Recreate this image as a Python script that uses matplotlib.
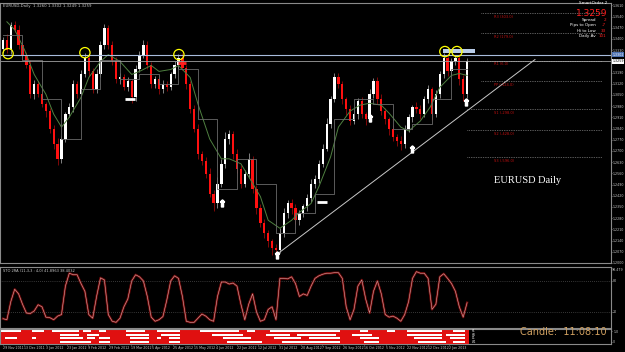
import numpy as np
import matplotlib
matplotlib.use("Agg")
import matplotlib.pyplot as plt
from matplotlib.transforms import blended_transform_factory

# ---- price data (one value per bar, EURUSD daily) ----
closes = [1.3395, 1.3333, 1.3488, 1.3457, 1.3364, 1.3302, 1.3240, 1.3054, 1.3116, 1.3054,
          1.2992, 1.2949, 1.2837, 1.2744, 1.2651, 1.2775, 1.2930, 1.2973, 1.3116, 1.3054,
          1.3178, 1.3283, 1.3197, 1.3085, 1.3178, 1.3364, 1.3469, 1.3364, 1.3259, 1.3147,
          1.3159, 1.3097, 1.3135, 1.3035, 1.3209, 1.3302, 1.3364, 1.3240, 1.3116, 1.3147,
          1.3085, 1.3116, 1.3097, 1.3178, 1.3240, 1.3283, 1.3221, 1.3116, 1.2961, 1.2837,
          1.2682, 1.2639, 1.2558, 1.2434, 1.2372, 1.2496, 1.2620, 1.2775, 1.2806, 1.2682,
          1.2589, 1.2496, 1.2558, 1.2651, 1.2465, 1.2341, 1.2248, 1.2186, 1.2136, 1.2093,
          1.2081, 1.2186, 1.2310, 1.2372, 1.2341, 1.2267, 1.2310, 1.2353, 1.2403, 1.2496,
          1.2527, 1.2620, 1.2713, 1.2868, 1.3023, 1.3159, 1.3116, 1.3023, 1.2961, 1.2887,
          1.2930, 1.3011, 1.2930, 1.2899, 1.3054, 1.3135, 1.3023, 1.2949, 1.2899, 1.2837,
          1.2787, 1.2763, 1.2744, 1.2837, 1.2911, 1.2973, 1.2961, 1.2930, 1.3023, 1.3085,
          1.2930, 1.3054, 1.3178, 1.3283, 1.3197, 1.3259, 1.3283, 1.3147, 1.3054, 1.3259]
first_open = 1.3340
# wick lengths in pips above / below the candle body
upper_wick = [20, 35, 15, 25, 30, 20, 15, 30, 25, 20, 30, 15, 20, 25, 35, 20, 15, 25, 30, 20,
              25, 30, 15, 20, 35, 20, 25, 15, 20, 30, 25, 20, 30, 15, 25, 20, 30, 25, 15, 20,
              25, 30, 20, 15, 25, 20, 30, 15, 20, 25, 30, 20, 25, 35, 20, 40, 30, 45, 25, 20,
              30, 25, 20, 35, 15, 20, 25, 30, 20, 15, 25, 30, 35, 20, 25, 30, 20, 15, 25, 30,
              20, 25, 30, 35, 20, 25, 30, 20, 15, 25, 30, 20, 25, 15, 30, 20, 25, 30, 20, 15,
              25, 20, 30, 25, 20, 15, 30, 25, 20, 30, 15, 25, 20, 30, 25, 20, 15, 25, 30, 20]
lower_wick = [25, 20, 30, 15, 25, 35, 20, 25, 30, 15, 20, 35, 25, 30, 40, 25, 20, 15, 30, 25,
              20, 15, 30, 25, 20, 15, 25, 30, 20, 25, 30, 15, 25, 35, 20, 15, 20, 30, 25, 20,
              30, 20, 25, 15, 20, 25, 15, 30, 25, 20, 35, 25, 30, 20, 45, 30, 20, 25, 30, 35,
              25, 30, 20, 25, 30, 35, 25, 30, 35, 40, 35, 20, 25, 30, 35, 25, 30, 20, 25, 20,
              30, 25, 20, 15, 25, 20, 25, 30, 35, 25, 20, 30, 25, 35, 20, 25, 30, 25, 30, 35,
              25, 30, 40, 25, 20, 30, 25, 30, 20, 25, 35, 20, 25, 20, 30, 25, 20, 35, 40, 25]

# green moving average (bar position, value)
ma_bar = [1, 3, 5.5, 8, 11, 13, 15, 17, 20, 22, 25, 27, 30, 33, 35, 38, 40, 43, 45, 48,
          50, 53, 56, 58, 61, 63, 66, 68, 71, 74, 76, 79, 81, 84, 86, 89, 91.5, 94, 97, 99,
          102, 104, 107, 109.5, 112, 115, 117, 119]
ma_val = [1.3507, 1.3457, 1.3333, 1.3178, 1.3054, 1.2930, 1.2849, 1.2911, 1.3035, 1.3159,
          1.3259, 1.3302, 1.3259, 1.3178, 1.3197, 1.3234, 1.3197, 1.3209, 1.3234, 1.3159,
          1.2992, 1.2775, 1.2651, 1.2651, 1.2620, 1.2539, 1.2415, 1.2267, 1.2217, 1.2267,
          1.2316, 1.2372, 1.2477, 1.2663, 1.2849, 1.2949, 1.2986, 1.2998, 1.2986, 1.2936,
          1.2849, 1.2825, 1.2887, 1.2973, 1.3097, 1.3172, 1.3184, 1.3172]

# gray step indicator, one level per 5 bars
step_val = [1.3426, 1.3271, 1.3023, 1.2775, 1.3085, 1.3271, 1.3147, 1.3178, 1.3116, 1.3209,
            1.2899, 1.2465, 1.2651, 1.2496, 1.2186, 1.2310, 1.2434, 1.2899, 1.3023, 1.2992,
            1.2837, 1.2868, 1.3023, 1.3209]

# stochastic oscillator, one value per bar
stoch = [7, 5, 40, 64, 55, 35, 18, 17, 22, 34, 30, 10, 9, 5, 12, 15, 70, 95, 92, 92,
         75, 60, 15, 8, 50, 86, 82, 15, 2, 0, 8, 30, 45, 80, 92, 88, 80, 50, 10, 2,
         5, 11, 43, 80, 90, 85, 50, 2, 0, 0, 8, 16, 12, 5, 2, 50, 78, 78, 74, 76,
         70, 35, 5, 35, 55, 20, 2, 5, 25, 30, 5, 85, 85, 84, 88, 75, 50, 55, 52, 70,
         85, 90, 93, 95, 95, 96, 96, 85, 30, 5, 25, 70, 82, 45, 18, 60, 80, 55, 15, 10,
         12, 8, 2, 15, 40, 85, 98, 95, 95, 85, 25, 35, 88, 94, 85, 75, 60, 30, 10, 38]

# multi timeframe strip: white segments (first bar, last bar) per row
strip_rows = [
    [(0, 4), (8, 10), (13, 19), (21, 22), (25, 26), (32, 36), (40, 45), (51, 60), (63, 64),
     (69, 86), (92, 93), (99, 100), (104, 112), (116, 118)],
    [(15, 19), (22, 24), (32, 37), (41, 45), (54, 61), (68, 73), (76, 85), (90, 94),
     (104, 112), (114, 118)],
    [(1, 3), (8, 8), (15, 20), (22, 23), (25, 27), (33, 37), (40, 40), (43, 45), (57, 63),
     (70, 76), (79, 86), (92, 96), (106, 112), (115, 118)],
    [(15, 22), (25, 27), (33, 37), (43, 45), (58, 66), (72, 86), (93, 96), (107, 113),
     (116, 118)],
]
strip_names = ["H1", "H4", "D1", "W1"]

date_labels = ["29 Nov 2011", "13 Dec 2011", "3 Jan 2012", "23 Jan 2012", "9 Feb 2012",
               "29 Feb 2012", "19 Mar 2012", "5 Apr 2012", "25 Apr 2012", "15 May 2012",
               "4 Jun 2012", "22 Jun 2012", "12 Jul 2012", "31 Jul 2012", "20 Aug 2012",
               "7 Sep 2012", "26 Sep 2012", "16 Oct 2012", "5 Nov 2012", "22 Nov 2012",
               "12 Dec 2012", "2 Jan 2013"]

# marks on the chart
circle_bar = [1.3, 21, 45.1, 113.3, 116.4]
circle_val = [1.3308, 1.3314, 1.3302, 1.3321, 1.3321]
arrow_bar = [56.2, 70.3, 94.1, 104.9, 118.7]
arrow_val = [1.2372, 1.2050, 1.2905, 1.2713, 1.3004]
dash_bar = [32.6, 81.8]
dash_val = [1.3023, 1.2384]
red_dash_bar = [45.9]
red_dash_val = [1.3252]
pivot_names = ["R3", "R2", "R1", "PP", "S1", "S2", "S3"]
pivot_val = [1.3562, 1.3438, 1.3265, 1.3135, 1.2961, 1.2831, 1.2663]
trend_bar = [70, 136.4]
trend_val = [1.2050, 1.3271]
resist_line = 1.3302
bid = 1.3259

W, H = 625, 352


def box(x0, y0, x1, y1):
    return [x0 / W, 1 - y1 / H, (x1 - x0) / W, (y1 - y0) / H]


fig = plt.figure(figsize=(6.25, 3.52), dpi=100, facecolor="black")
xlim = (-3 / 3.9, 608 / 3.9)
grey = "#8a8a8a"
fs_axis = 2.3

# ---------------- main price panel ----------------
ax = fig.add_axes(box(0, 3, 611, 263))
ax.set_facecolor("black")
ax.set_xlim(*xlim)
ax.set_ylim(1.2000 + 2 * 0.00062, 1.2000 + 262 * 0.00062)

opens = [first_open] + closes[:-1]
for i, (o, c) in enumerate(zip(opens, closes)):
    col = "#ffffff" if c >= o else "#ff1010"
    hi = max(o, c) + upper_wick[i] * 0.0001
    lo = min(o, c) - lower_wick[i] * 0.0001
    ax.vlines(i, lo, hi, color=col, lw=0.5, alpha=0.7)
    h = c - o
    if abs(h) < 0.0004:
        h = 0.0004
    ax.bar(i, h, bottom=o, width=0.6, color=col, lw=0)

ax.plot(ma_bar, ma_val, color="#4f8040", lw=0.7)
step_x = list(range(0, 120, 5)) + [119]
ax.step(step_x, step_val + [step_val[-1]], where="post", color="#6a6a6a", lw=0.6)

ax.axhline(resist_line, color="#a8bcdc", lw=0.8)
ax.axhline(bid, color="#a0a0a0", lw=0.6)
ax.fill_between([112.8, 121], 1.3314, 1.3339, color="#b8cce8", lw=0)
ax.plot(trend_bar, trend_val, color="#c8c8c8", lw=0.7)
ax.scatter(circle_bar, circle_val, s=55, facecolors="none", edgecolors="#ffff00", lw=0.9, zorder=5)
ax.plot(arrow_bar, arrow_val, ls="none", marker=r"$\Uparrow$", ms=5, color="white")
ax.plot(dash_bar, dash_val, ls="none", marker="_", ms=7, mew=2, color="white")
ax.plot(red_dash_bar, red_dash_val, ls="none", marker="_", ms=6, mew=2, color="#ff2020")

for name, v in zip(pivot_names, pivot_val):
    start = 122.5 if v > 1.3 else 119
    ax.hlines(v, start, 153.5, color="#b0b0b0", lw=0.5, linestyles=(0, (1, 1.5)))
    ax.text(126, v - 0.0011, "%s (%.1f)" % (name, (v - bid) * 10000), color="#c01010",
            fontsize=2.6, va="top")

ax.text(126, 1.2500, "EURUSD Daily", color="white", fontsize=7.5, family="Liberation Serif")

ax.yaxis.tick_right()
ax.set_yticks(1.2000 + 0.0070 * np.arange(24))
ax.set_yticklabels(["%.4f" % (1.2000 + 0.0070 * k) for k in range(24)])
ax.tick_params(axis="y", labelsize=fs_axis, colors="#c8c8c8", length=1, width=0.4, pad=0.4)
ax.set_xticks([])
for s in ax.spines.values():
    s.set_color(grey)
    s.set_linewidth(0.8)

tr = blended_transform_factory(ax.transAxes, ax.transData)
ax.text(1.002, resist_line, "%.4f" % resist_line, transform=tr, fontsize=fs_axis, color="white",
        va="center", bbox=dict(boxstyle="square,pad=0.15", fc="#4a6fb0", ec="none"))
ax.text(1.002, bid, "%.4f" % bid, transform=tr, fontsize=fs_axis, color="black",
        va="center", bbox=dict(boxstyle="square,pad=0.15", fc="white", ec="none"))

ax.text(0.005, 0.995, "EURUSD,Daily  1.3260 1.3302 1.3249 1.3259", transform=ax.transAxes,
        color="#c8c8c8", fontsize=2.8, va="top")

# info block top right
fig.text(607 / W, 1 - 3 / H, "SmartOrder 2", color="white", fontsize=3, ha="right", va="center")
fig.text(607 / W, 1 - 13.5 / H, "1.3259", color="#ff2020", fontsize=6.5, ha="right", va="center")
info = [("Spread", "2"), ("Pips to Open", "-7"), ("Hi to Low", "33"), ("Daily Av", "101")]
for k, (lab, val) in enumerate(info):
    yy = 1 - (20 + 5.3 * k) / H
    fig.text(596 / W, yy, lab, color="white", fontsize=3, ha="right", va="center")
    fig.text(606 / W, yy, val, color="#ff2020", fontsize=3, ha="right", va="center")

# ---------------- oscillator panel ----------------
ax2 = fig.add_axes(box(0, 267, 611, 328))
ax2.set_facecolor("black")
ax2.set_xlim(*xlim)
ax2.set_ylim(-11, 107)
ax2.plot(range(len(stoch)), stoch, color="#6e0808", lw=1.7)
ax2.plot(range(len(stoch)), stoch, color="#d8a8a8", lw=0.4)
for lv in (20, 80):
    ax2.axhline(lv, color="#6a6a6a", lw=0.5, ls=(0, (1, 2)))
ax2.yaxis.tick_right()
ax2.set_yticks([20, 80])
ax2.tick_params(axis="y", labelsize=fs_axis, colors="#c8c8c8", length=1, width=0.4, pad=0.4)
ax2.set_xticks([])
ax2.text(0.005, 0.96, "STO 2RA (11,3,3 : 4,0) 41.8963 38.4032", transform=ax2.transAxes,
         color="#c8c8c8", fontsize=2.6, va="top")
ax2.text(1.002, 0.98, "98.479", transform=ax2.transAxes, color="#c8c8c8", fontsize=fs_axis, va="top")
for s in ax2.spines.values():
    s.set_color(grey)
    s.set_linewidth(0.8)

# ---------------- strip panel ----------------
ax3 = fig.add_axes(box(0, 329, 611, 344))
ax3.set_facecolor("black")
ax3.set_xlim(*xlim)
ax3.set_ylim(-0.7, 3.7)
n = len(closes)
ax3.broken_barh([(-0.5, n)], (-0.6, 4.2), facecolors="#e01010")
for r, segs in enumerate(strip_rows):
    yrow = 3 - r
    ax3.broken_barh([(a - 0.5, b - a + 1) for a, b in segs], (yrow - 0.32, 0.64), facecolors="white")
    ax3.text(n + 0.3, yrow, strip_names[r], color="white", fontsize=2, va="center")
ax3.yaxis.tick_right()
ax3.set_yticks([0, 3])
ax3.set_yticklabels(["0", "1.0"])
ax3.set_xticks(np.arange(len(date_labels)) * 5.45)
ax3.set_xticklabels(date_labels, ha="left")
ax3.tick_params(axis="both", labelsize=fs_axis, colors="#c8c8c8", length=1, width=0.4, pad=0.6)
for s in ax3.spines.values():
    s.set_color(grey)
    s.set_linewidth(0.8)

fig.text(607 / W, 1 - 332 / H, "Candle:  11:08:10", color="#d0a060", fontsize=7, ha="right",
         va="center")

fig.savefig("out.png", dpi=100, facecolor="black")
